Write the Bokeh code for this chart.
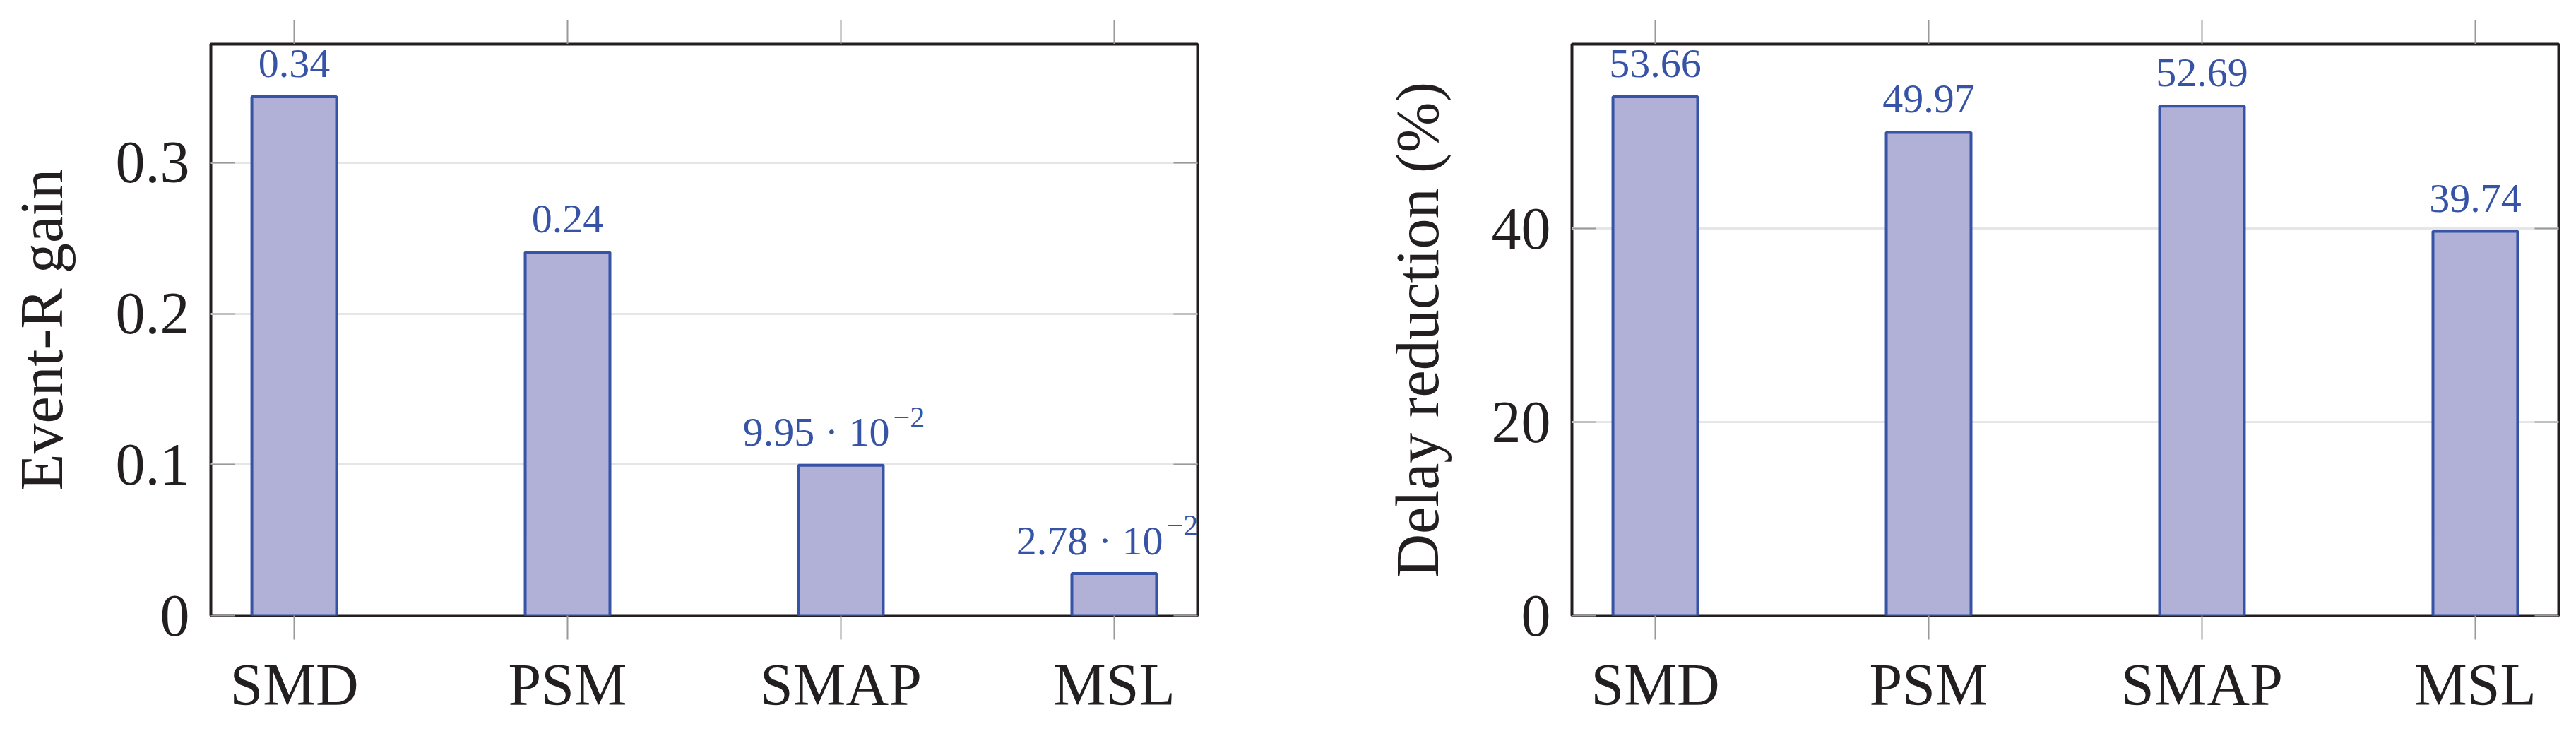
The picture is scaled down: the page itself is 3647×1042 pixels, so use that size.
from bokeh.plotting import figure
from bokeh.layouts import row
from bokeh.models import (Range1d, FixedTicker, LinearAxis, CustomJSTickFormatter,
                          NumeralTickFormatter, ColumnDataSource)
from bokeh.embed import file_html
from bokeh.resources import INLINE
from bokeh.core.properties import value

# ---------------- data ----------------
categories = ["SMD", "PSM", "SMAP", "MSL"]

event_r_gain = [0.3436, 0.2406, 0.0995, 0.0278]
event_r_labels = ["0.34", "0.24", "9.95 · 10", "2.78 · 10"]
event_r_exponents = ["", "", "−2", "−2"]
event_r_ticks = [0, 0.1, 0.2, 0.3]

delay_reduction = [53.66, 49.97, 52.69, 39.74]
delay_labels = ["53.66", "49.97", "52.69", "39.74"]
delay_exponents = ["", "", "", ""]
delay_ticks = [0, 20, 40]

# ---------------- style ----------------
FONT = "Liberation Serif"
BAR_FILL = "#b1b1d8"
BAR_LINE = "#3653a5"
FRAME = "#231f20"
TICK = "#999999"
GRID = "#e6e6e6"


def make_panel(vals, labels, exps, ylabel, yticks, ymax, border_left, border_right, yfmt):
    n = len(vals)
    xs = list(range(n))
    p = figure(frame_width=1397, frame_height=809,
               x_range=Range1d(-0.305, n - 1 + 0.305), y_range=Range1d(0, ymax),
               output_backend="svg", toolbar_location=None,
               min_border_left=border_left, min_border_right=border_right,
               min_border_top=62, min_border_bottom=160)
    p.background_fill_color = "white"
    p.border_fill_color = "white"
    p.outline_line_color = FRAME
    p.outline_line_width = 4

    xticker = FixedTicker(ticks=xs)
    yticker = FixedTicker(ticks=yticks)

    # grid
    p.xgrid.grid_line_color = None
    p.ygrid.ticker = yticker
    p.ygrid.grid_line_color = GRID
    p.ygrid.grid_line_width = 3

    # bottom axis
    xa = p.xaxis[0]
    xa.ticker = xticker
    xa.formatter = CustomJSTickFormatter(args=dict(cats=categories),
                                         code="return cats[Math.round(tick)] || ''")
    xa.major_tick_out = 34
    xa.major_tick_in = 0
    xa.minor_tick_line_color = None
    xa.axis_line_color = None
    xa.major_tick_line_color = TICK
    xa.major_tick_line_width = 2
    xa.major_label_standoff = 17
    xa.major_label_text_font = FONT
    xa.major_label_text_font_size = "84px"
    xa.major_label_text_color = FRAME

    # left axis
    ya = p.yaxis[0]
    ya.ticker = yticker
    ya.formatter = yfmt
    ya.major_tick_in = 34
    ya.major_tick_out = 0
    ya.minor_tick_line_color = None
    ya.axis_line_color = None
    ya.major_tick_line_color = TICK
    ya.major_tick_line_width = 2
    ya.major_label_standoff = 30
    ya.major_label_text_font = FONT
    ya.major_label_text_font_size = "84px"
    ya.major_label_text_color = FRAME
    ya.axis_label = ylabel
    ya.axis_label_text_font = FONT
    ya.axis_label_text_font_size = "86px"
    ya.axis_label_text_font_style = "normal"
    ya.axis_label_text_color = FRAME
    ya.axis_label_standoff = 54

    # mirrored axes (ticks only)
    top = LinearAxis(ticker=xticker, formatter=CustomJSTickFormatter(code="return ''"),
                     major_tick_out=34, major_tick_in=0,
                     minor_tick_line_color=None, axis_line_color=None,
                     major_tick_line_color=TICK, major_tick_line_width=2,
                     major_label_text_font_size="1px", major_label_standoff=0)
    p.add_layout(top, "above")
    right = LinearAxis(ticker=yticker, formatter=CustomJSTickFormatter(code="return ''"),
                       major_tick_out=0, major_tick_in=34,
                       minor_tick_line_color=None, axis_line_color=None,
                       major_tick_line_color=TICK, major_tick_line_width=2,
                       major_label_text_font_size="1px", major_label_standoff=0)
    p.add_layout(right, "right")

    # bars
    p.vbar(x=xs, top=vals, bottom=0, width=0.31, fill_color=BAR_FILL,
           line_color=BAR_LINE, line_width=4)

    # value labels
    plain = [i for i in xs if exps[i] == ""]
    expo = [i for i in xs if exps[i] != ""]
    if plain:
        src = ColumnDataSource(dict(x=[xs[i] for i in plain], y=[vals[i] for i in plain],
                                    t=[labels[i] for i in plain]))
        p.text(x="x", y="y", text="t", source=src, text_font=value(FONT),
               text_font_size="58px", text_color=BAR_LINE, text_align="center",
               text_baseline="alphabetic", y_offset=-47)
    if expo:
        src = ColumnDataSource(dict(x=[xs[i] for i in expo], y=[vals[i] for i in expo],
                                    t=[labels[i] for i in expo], e=[exps[i] for i in expo]))
        p.text(x="x", y="y", text="t", source=src, text_font=value(FONT),
               text_font_size="58px", text_color=BAR_LINE, text_align="right",
               text_baseline="alphabetic", x_offset=69, y_offset=-47)
        p.text(x="x", y="y", text="e", source=src, text_font=value(FONT),
               text_font_size="42px", text_color=BAR_LINE, text_align="left",
               text_baseline="alphabetic", x_offset=74, y_offset=-68)
    return p


p1 = make_panel(event_r_gain, event_r_labels, event_r_exponents, "Event-R gain",
                event_r_ticks, 0.3785, 298, 20, NumeralTickFormatter(format="0.[0]"))
p2 = make_panel(delay_reduction, delay_labels, delay_exponents, "Delay reduction (%)",
                delay_ticks, 59.1, 510, 10, NumeralTickFormatter(format="0"))

layout = row(p1, p2)
open("out.html", "w").write(file_html(layout, INLINE))
